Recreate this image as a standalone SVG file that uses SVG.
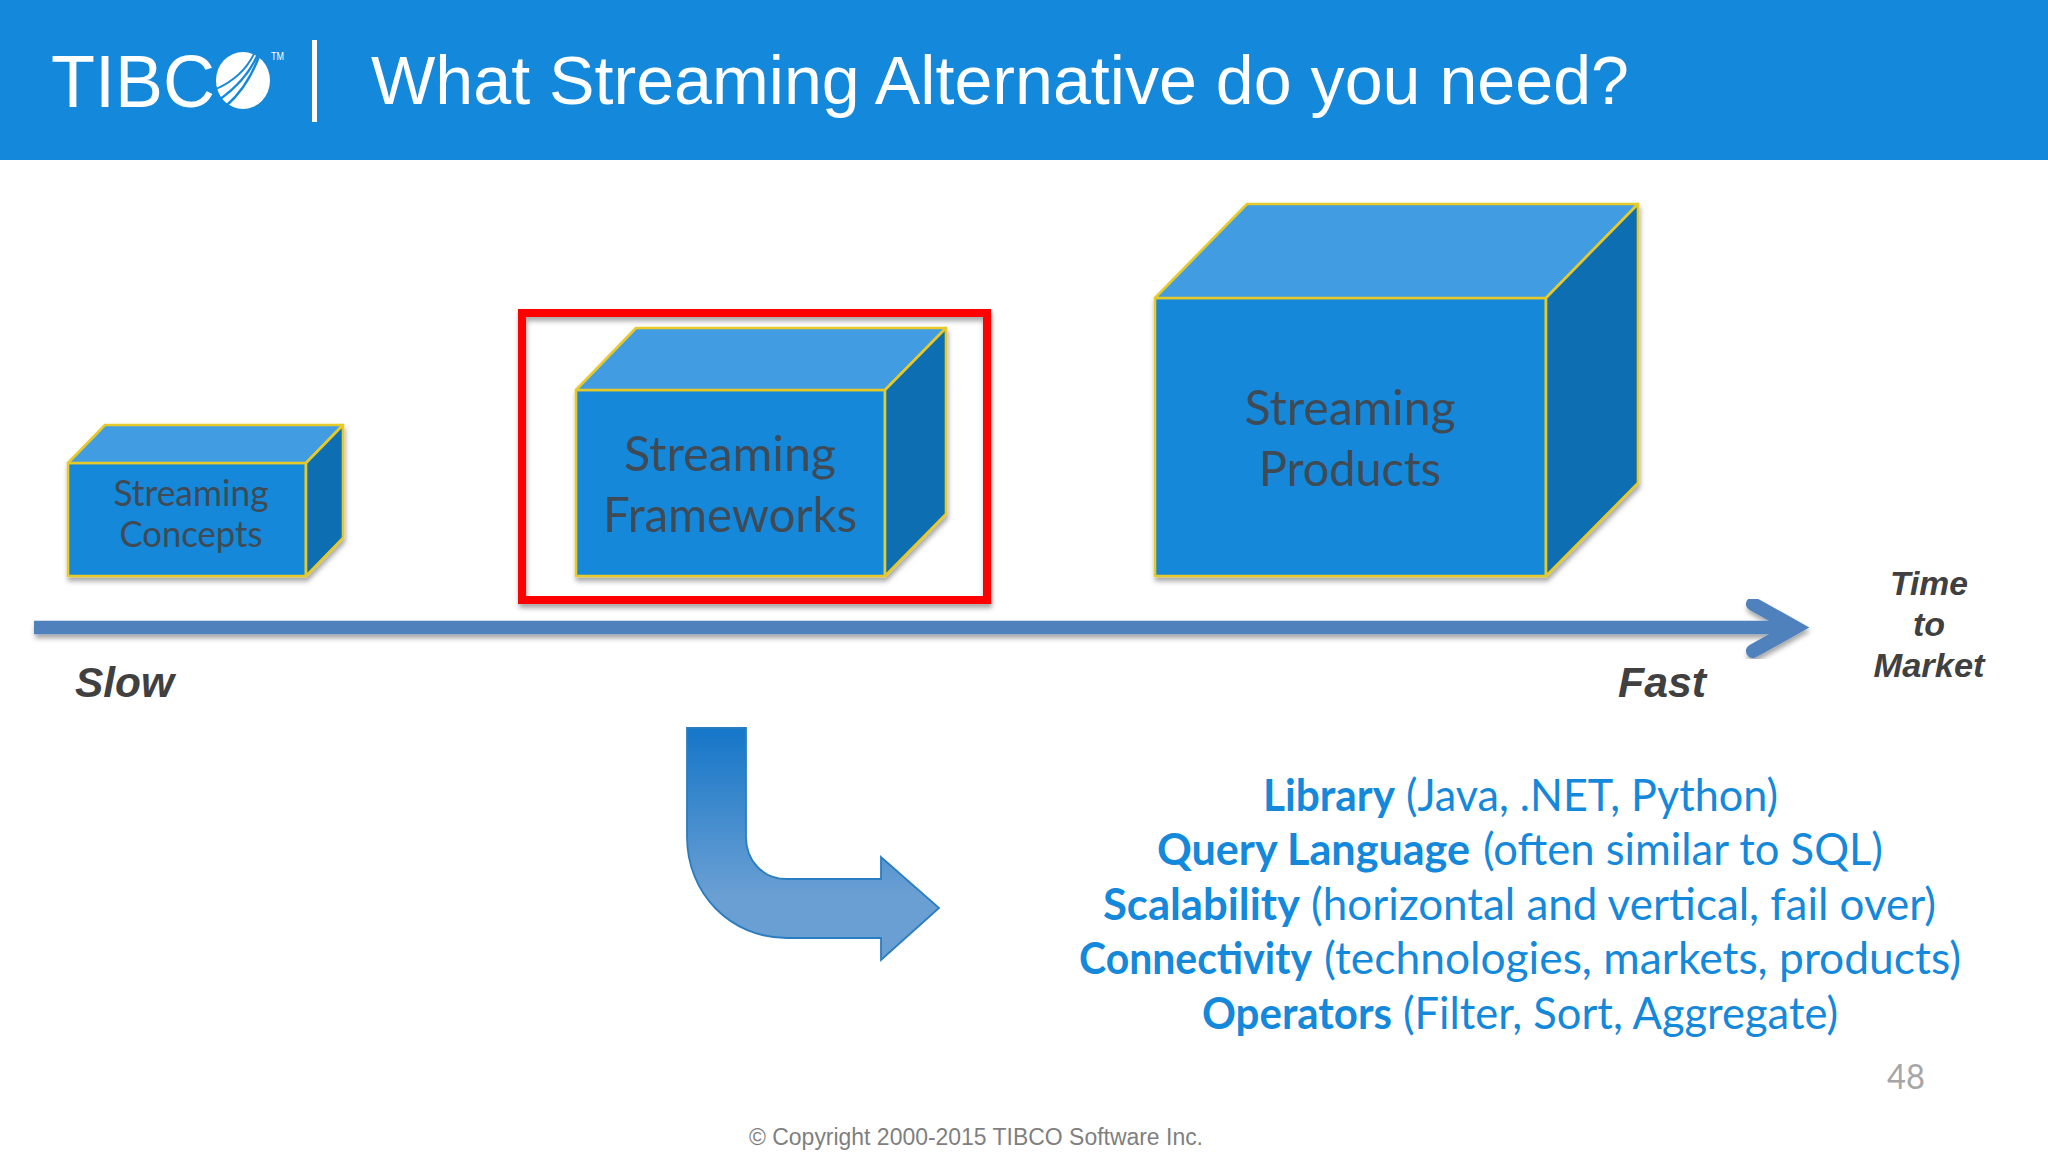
<svg xmlns="http://www.w3.org/2000/svg" width="2048" height="1152" viewBox="0 0 2048 1152">
<style>
.front{fill:#1488da;stroke:#e6c929;stroke-width:2.6;stroke-linejoin:round}
.top{fill:#439ce1;stroke:#e6c929;stroke-width:2.6;stroke-linejoin:round}
.side{fill:#106eb2;stroke:#e6c929;stroke-width:2.6;stroke-linejoin:round}
.boxt{font-family:"Lato","Noto Sans",sans-serif;fill:#3f4a55;text-anchor:middle}
.lab{font-family:"Liberation Sans",Arial,sans-serif;font-weight:bold;font-style:italic;fill:#404040}
.det{font-family:"Lato","Noto Sans",sans-serif;font-size:44px;fill:#1488da}
.b{font-weight:bold}
</style>
<defs>
<filter id="sh" x="-10%" y="-10%" width="120%" height="125%"><feDropShadow dx="1" dy="4" stdDeviation="2.5" flood-color="#000" flood-opacity="0.35"/></filter>
<linearGradient id="bent" x1="0" y1="0" x2="0" y2="1"><stop offset="0" stop-color="#1576c8"/><stop offset="0.72" stop-color="#6a9fd3"/><stop offset="1" stop-color="#6a9fd3"/></linearGradient>
</defs>
<rect width="2048" height="1152" fill="#ffffff"/>
<g id="header">
<rect width="2048" height="160" fill="#1488da"/>
<text x="51" y="107" font-family="Liberation Sans, Arial, sans-serif" font-size="75" fill="#fff" textLength="164" lengthAdjust="spacingAndGlyphs">TIBC</text>
<ellipse cx="243" cy="80.5" rx="27" ry="28.5" fill="#fff"/>
<path d="M254 54C246 70 232 82 216 89" fill="none" stroke="#1488da" stroke-width="1.8"/>
<path d="M258 54C250 73 236 88 219 100" fill="none" stroke="#1488da" stroke-width="2.4"/>
<path d="M260 54C252 76 242 92 226 106" fill="none" stroke="#1488da" stroke-width="2.4"/>
<text x="271" y="60" font-family="Liberation Sans, Arial, sans-serif" font-size="11" fill="#fff" textLength="13" lengthAdjust="spacingAndGlyphs">TM</text>
<rect x="312" y="40" width="5" height="82" fill="#fff"/>
<text x="371" y="104" font-family="Liberation Sans, Arial, sans-serif" font-size="69" fill="#fff" textLength="1258" lengthAdjust="spacingAndGlyphs">What Streaming Alternative do you need?</text>
</g>
<g id="highlight">
<rect x="522" y="313" width="465" height="287" fill="none" stroke="#ff0000" stroke-width="8" filter="url(#sh)"/>
</g>
<g id="node-concepts">
<g filter="url(#sh)">
<polygon class="front" points="68,463 306,463 306,576 68,576"/>
<polygon class="top" points="68,463 105,425 343,425 306,463"/>
<polygon class="side" points="306,463 343,425 343,538 306,576"/>
</g>
<text class="boxt" x="191" y="506" font-size="37" textLength="155" lengthAdjust="spacingAndGlyphs">Streaming</text>
<text class="boxt" x="191" y="547" font-size="37" textLength="143" lengthAdjust="spacingAndGlyphs">Concepts</text>
</g>
<g id="node-frameworks">
<g filter="url(#sh)">
<polygon class="front" points="576,390 885,390 885,576 576,576"/>
<polygon class="top" points="576,390 636,328 946,328 885,390"/>
<polygon class="side" points="885,390 946,328 946,514 885,576"/>
</g>
<text class="boxt" x="730" y="471" font-size="49" textLength="212" lengthAdjust="spacingAndGlyphs">Streaming</text>
<text class="boxt" x="730" y="532" font-size="49" textLength="254" lengthAdjust="spacingAndGlyphs">Frameworks</text>
</g>
<g id="node-products">
<g filter="url(#sh)">
<polygon class="front" points="1155,298 1546,298 1546,576 1155,576"/>
<polygon class="top" points="1155,298 1247,204 1638,204 1546,298"/>
<polygon class="side" points="1546,298 1638,204 1638,483 1546,576"/>
</g>
<text class="boxt" x="1350" y="425" font-size="49" textLength="211" lengthAdjust="spacingAndGlyphs">Streaming</text>
<text class="boxt" x="1350" y="486" font-size="49" textLength="182" lengthAdjust="spacingAndGlyphs">Products</text>
</g>
<g id="connectors">
<g filter="url(#sh)" fill="none" stroke="#4f81bd">
<line x1="34" y1="627.500" x2="1795" y2="627.500" stroke-width="13.500"/>
<polyline points="1753,604 1795,627.500 1753,651" stroke-width="14" stroke-linecap="round" stroke-linejoin="miter"/>
</g>
<path d="M687 728H746V837C746 861 763 879 787 879H881V857L939 908L881 960V938H787C730 938 687 893 687 837Z" fill="url(#bent)" stroke="#2a7dc0" stroke-width="1.800"/>
</g>
<g id="labels">
<text class="lab" x="75" y="697" font-size="43" textLength="99" lengthAdjust="spacingAndGlyphs">Slow</text>
<text class="lab" x="1618" y="697" font-size="43" textLength="88" lengthAdjust="spacingAndGlyphs">Fast</text>
<text class="lab" x="1929" y="595" font-size="34" text-anchor="middle" textLength="78" lengthAdjust="spacingAndGlyphs">Time</text>
<text class="lab" x="1929" y="636" font-size="34" text-anchor="middle">to</text>
<text class="lab" x="1929" y="677" font-size="34" text-anchor="middle" textLength="111" lengthAdjust="spacingAndGlyphs">Market</text>
</g>
<g id="details">
<text class="det b" x="1263" y="811" textLength="132" lengthAdjust="spacingAndGlyphs">Library</text><text class="det" x="1406" y="811" textLength="372" lengthAdjust="spacingAndGlyphs">(Java, .NET, Python)</text>
<text class="det b" x="1157" y="865" textLength="313" lengthAdjust="spacingAndGlyphs">Query Language</text><text class="det" x="1483" y="865" textLength="400" lengthAdjust="spacingAndGlyphs">(often similar to SQL)</text>
<text class="det b" x="1103" y="920" textLength="197" lengthAdjust="spacingAndGlyphs">Scalability</text><text class="det" x="1311" y="920" textLength="625" lengthAdjust="spacingAndGlyphs">(horizontal and vertical, fail over)</text>
<text class="det b" x="1079" y="974" textLength="233" lengthAdjust="spacingAndGlyphs">Connectivity</text><text class="det" x="1324" y="974" textLength="637" lengthAdjust="spacingAndGlyphs">(technologies, markets, products)</text>
<text class="det b" x="1202" y="1029" textLength="190" lengthAdjust="spacingAndGlyphs">Operators</text><text class="det" x="1403" y="1029" textLength="435" lengthAdjust="spacingAndGlyphs">(Filter, Sort, Aggregate)</text>
</g>
<g id="footer">
<text x="1887" y="1089" font-family="Lato, sans-serif" font-size="34" fill="#a6a6a6" textLength="38" lengthAdjust="spacingAndGlyphs">48</text>
<text x="749" y="1145" font-family="Liberation Sans, Arial, sans-serif" font-size="23" fill="#7f7f7f" textLength="454" lengthAdjust="spacingAndGlyphs">© Copyright 2000-2015 TIBCO Software Inc.</text>
</g>
</svg>
